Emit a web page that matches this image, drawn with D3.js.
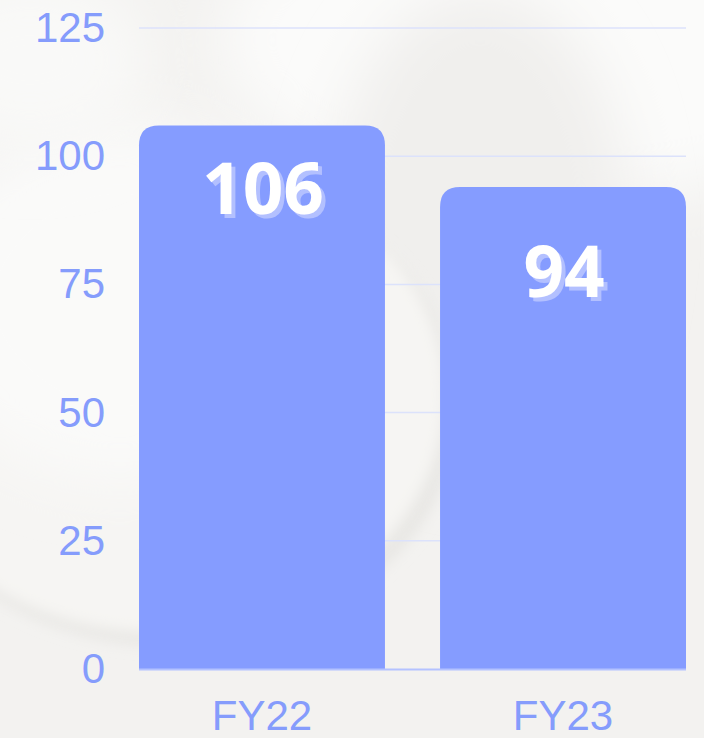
<!DOCTYPE html>
<html>
<head>
<meta charset="utf-8">
<script src="https://cdn.jsdelivr.net/npm/d3@7"></script>
<style>
  html, body { margin: 0; padding: 0; background: #f4f3f1; }
  svg { display: block; }
</style>
</head>
<body>
<div id="chart"></div>
<script>
// Data

const categories = ["FY22", "FY23"];                 // x categories
const values = [106, 94];                            // bar values
const yTicks = [0, 25, 50, 75, 100, 125];            // y axis ticks

// Layout

const W = 704, H = 738;
const margin = {top: 28, right: 18, bottom: 69, left: 139};
const barColor = "#859cff";
const textColor = "#859cfc";
const labelDrop = [89, 110];                          // baseline offset of value label below bar top

const svg = d3.select("#chart").append("svg")
    .attr("width", W)
    .attr("height", H);

// Background: soft blurred shapes

const defs = svg.append("defs");
defs.append("filter").attr("id", "blur40")
    .attr("x", "-50%").attr("y", "-50%").attr("width", "200%").attr("height", "200%")
  .append("feGaussianBlur").attr("stdDeviation", 30);
defs.append("filter").attr("id", "blur8")
    .attr("x", "-50%").attr("y", "-50%").attr("width", "200%").attr("height", "200%")
  .append("feGaussianBlur").attr("stdDeviation", 7);
defs.append("filter").attr("id", "shadow")
    .attr("x", "-20%").attr("y", "-20%").attr("width", "140%").attr("height", "140%")
  .append("feDropShadow")
    .attr("dx", 4).attr("dy", 4).attr("stdDeviation", 0)
    .attr("flood-color", "#b3c0ff").attr("flood-opacity", 1);

const bg = svg.append("g");
bg.append("rect").attr("width", W).attr("height", H).attr("fill", "#f3f2f0");
bg.append("ellipse").attr("cx", 560).attr("cy", 40).attr("rx", 340).attr("ry", 160)
    .attr("fill", "#fbfbfa").attr("filter", "url(#blur40)");
bg.append("ellipse").attr("cx", 480).attr("cy", 230).attr("rx", 150).attr("ry", 240)
    .attr("fill", "#f0efed").attr("filter", "url(#blur40)");
// left pebble shadow and body
bg.append("ellipse").attr("cx", 170).attr("cy", 408).attr("rx", 288).attr("ry", 238)
    .attr("fill", "#e8e7e4").attr("filter", "url(#blur8)");
bg.append("ellipse").attr("cx", 160).attr("cy", 395).attr("rx", 285).attr("ry", 238)
    .attr("fill", "#f6f5f3").attr("filter", "url(#blur8)");
bg.append("ellipse").attr("cx", 120).attr("cy", 300).attr("rx", 200).attr("ry", 180)
    .attr("fill", "#fafaf9").attr("filter", "url(#blur40)");
bg.append("ellipse").attr("cx", 30).attr("cy", 60).attr("rx", 120).attr("ry", 90)
    .attr("fill", "#f9f9f8").attr("filter", "url(#blur40)");

// Scales

const x = d3.scaleBand()
    .domain(categories)
    .range([margin.left, W - margin.right])
    .paddingInner(0.183)
    .paddingOuter(0);

const y = d3.scaleLinear()
    .domain([0, 125])
    .range([H - margin.bottom, margin.top]);

// Gridlines

svg.append("g")
    .selectAll("line")
    .data(yTicks.filter(d => d > 0))
    .enter()
    .append("line")
        .attr("x1", margin.left)
        .attr("x2", W - margin.right)
        .attr("y1", d => y(d))
        .attr("y2", d => y(d))
        .attr("stroke", "#dce2fb")
        .attr("stroke-width", 1.5);

// Bars with rounded top corners

const r = 20;
const barPath = (d, i) => {
    const x0 = x(categories[i]), x1 = x0 + x.bandwidth();
    const y0 = y(0), y1 = y(d);
    return "M" + x0 + "," + y0
        + "V" + (y1 + r)
        + "Q" + x0 + "," + y1 + " " + (x0 + r) + "," + y1
        + "H" + (x1 - r)
        + "Q" + x1 + "," + y1 + " " + x1 + "," + (y1 + r)
        + "V" + y0 + "Z";
};

svg.append("g")
    .selectAll("path")
    .data(values)
    .enter()
    .append("path")
        .attr("d", barPath)
        .attr("fill", barColor);

// Zero line

svg.append("line")
    .attr("x1", margin.left)
    .attr("x2", W - margin.right)
    .attr("y1", y(0) + 0.5)
    .attr("y2", y(0) + 0.5)
    .attr("stroke", "#b4c2ff")
    .attr("stroke-width", 2);

// Y axis labels

const yAxis = svg.append("g")
    .attr("transform", "translate(" + margin.left + ",0)")
    .call(d3.axisLeft(y).tickValues(yTicks).tickSize(0).tickPadding(34));
yAxis.select(".domain").remove();
yAxis.selectAll("text")
    .attr("fill", textColor)
    .style("font-family", "'Liberation Sans', Arial, sans-serif")
    .style("font-size", "42px");

// X axis labels

const xAxis = svg.append("g")
    .attr("transform", "translate(0," + y(0) + ")")
    .call(d3.axisBottom(x).tickSize(0).tickPadding(31));
xAxis.select(".domain").remove();
xAxis.selectAll("text")
    .attr("fill", textColor)
    .style("font-family", "'Liberation Sans', Arial, sans-serif")
    .style("font-size", "42px");

// Value labels with offset shadow

svg.append("g")
    .selectAll("text")
    .data(values)
    .enter()
    .append("text")
        .attr("x", (d, i) => x(categories[i]) + x.bandwidth() / 2 + 1)
        .attr("y", (d, i) => y(d) + labelDrop[i])
        .attr("text-anchor", "middle")
        .attr("fill", "#ffffff")
        .attr("filter", "url(#shadow)")
        .style("font-family", "'Open Sans', sans-serif")
        .style("font-weight", 700)
        .style("font-size", "71px")
        .text(d => d);
</script>
</body>
</html>
